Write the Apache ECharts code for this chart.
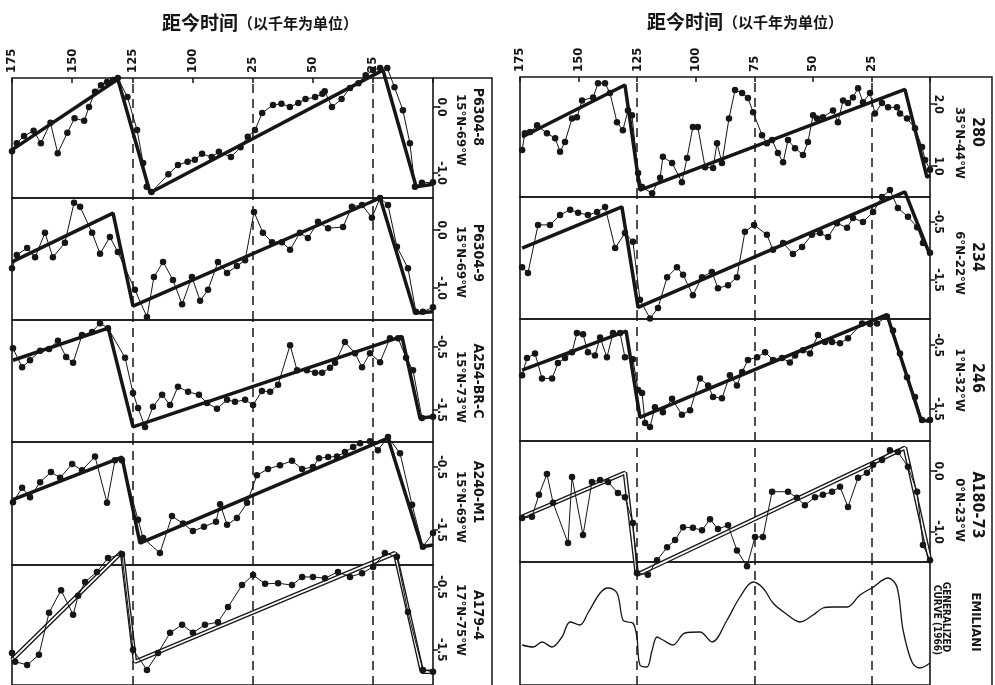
<!DOCTYPE html>
<html><head><meta charset="utf-8">
<script src="https://cdn.jsdelivr.net/npm/echarts@6/dist/echarts.min.js"></script>
<style>html,body{margin:0;padding:0;background:#fff}#c{width:995px;height:685px}</style>
</head><body><div id="c"></div>
<script>
// ---------- tick labels ----------
const xTickValues = [175, 150, 125, 100, 75, 50, 25];
const xTickLabelsLeft = ['175', '150', '125', '100', '25', '50', '25'];
const xTickLabelsRight = ['175', '150', '125', '100', '75', '50', '25'];
const boundaryAges = [125, 75, 25];
const titleMain = '距今时间';
const titleSub = '（以千年为单位）';

// ---------- data: [age (kyr BP), value] ----------
const p6304_8 = [[175,-0.67],[173,-0.55],[170,-0.44],[166,-0.36],[163,-0.55],[159,-0.24],[156,-0.70],[152,-0.39],[149,-0.17],[145,-0.21],[143,0.00],[140.5,0.23],[138,0.33],[135.5,0.38],[133,0.41],[131,0.44],[127,0.15],[123,-0.35],[120.5,-0.85],[119,-1.21],[117,-1.29],[110,-1.02],[106,-0.88],[102,-0.83],[99,-0.80],[96,-0.71],[92,-0.76],[89,-0.68],[84,-0.76],[80,-0.61],[77,-0.45],[74,-0.35],[71,-0.09],[66.5,0.03],[63,0.05],[59.5,0.00],[56,0.06],[53,0.12],[49,0.15],[46,0.20],[45,0.24],[42,0.00],[38,0.12],[34.5,0.29],[31,0.36],[28,0.48],[25,0.56],[22,0.59],[19,0.59],[16,0.30],[12.5,-0.05],[9.6,-0.55],[7.5,-1.21],[4.6,-1.15],[0,-1.14]];
const p6304_8_fit = [[175,-0.65],[131,0.42],[117.6,-1.30],[20.8,0.56],[7,-1.21],[0,-1.17]];

const p6304_9 = [[175,-0.66],[173,-0.43],[168.7,-0.31],[165.4,-0.47],[161.3,-0.05],[158,-0.47],[153,-0.22],[149.2,0.47],[146.7,0.40],[141.7,-0.05],[138.4,-0.41],[134.3,-0.12],[131,-0.38],[123.9,-1.03],[118.9,-1.50],[116,-0.81],[112.2,-0.55],[108.1,-0.86],[104.3,-1.28],[100.2,-0.81],[96.8,-1.22],[93.5,-1.03],[89.4,-0.55],[85.6,-0.74],[81.5,-0.62],[78.1,-0.52],[74.4,0.31],[70.7,-0.05],[66.9,-0.21],[62.8,-0.21],[59.4,-0.34],[55.3,-0.05],[52,-0.14],[47.8,0.14],[43.6,0.03],[37.4,0.05],[33.7,0.40],[29.5,0.43],[25.4,0.21],[22,0.55],[18.7,0.43],[15,-0.29],[10.4,-0.66],[7.1,-1.41],[4.2,-1.41],[0,-1.33]];
const p6304_9_fit = [[175,-0.55],[133,0.29],[124.7,-1.31],[22,0.55],[7.5,-1.43],[0,-1.41]];

const a254 = [[174.6,-0.52],[170.8,-0.82],[167.5,-0.71],[163.3,-0.56],[159.6,-0.53],[155.9,-0.40],[152.5,-0.66],[149.6,-0.75],[145.9,-0.31],[141.7,-0.26],[138.4,-0.12],[135.1,-0.20],[128,-0.67],[124.7,-1.23],[122.6,-1.47],[119.7,-1.77],[116.4,-1.45],[112.6,-1.26],[109.3,-1.42],[106,-1.13],[101.8,-1.21],[97.3,-1.26],[93.9,-1.39],[89.8,-1.48],[85.6,-1.34],[82.3,-1.37],[78.1,-1.34],[74.8,-1.42],[71.1,-1.20],[67.7,-1.21],[64.4,-1.10],[59.4,-0.47],[56.5,-0.87],[52.4,-0.87],[49,-0.91],[46.1,-0.91],[42.8,-0.83],[40.7,-0.75],[36.6,-0.42],[32.4,-0.60],[29.5,-0.82],[26.2,-0.60],[22,-0.74],[17.9,-0.36],[14.5,-0.36],[11.2,-0.67],[8.3,-0.87],[4.6,-1.63],[0,-1.61]];
const a254_fit = [[174.6,-0.71],[135,-0.20],[124.7,-1.77],[12.9,-0.33],[5.4,-1.63],[0,-1.61]];

const a240 = [[174.6,-1.06],[170.8,-0.83],[167.5,-0.98],[163.3,-0.74],[158.8,-0.58],[155,-0.67],[150,-0.45],[145.9,-0.55],[140.5,-0.33],[135.5,-1.07],[132.2,-0.39],[129.3,-0.39],[122.6,-1.34],[120.5,-1.63],[113.5,-1.87],[108.5,-1.28],[103.9,-1.40],[99.8,-1.52],[95.2,-1.45],[90.2,-1.37],[88.5,-1.09],[85.6,-1.42],[81.5,-1.31],[77.3,-1.07],[73.2,-0.63],[68.6,-0.53],[63.6,-0.47],[58.6,-0.40],[54.4,-0.53],[49.9,-0.50],[47.4,-0.36],[43.6,-0.34],[39.9,-0.33],[36.6,-0.26],[33.2,-0.18],[30.3,-0.12],[26.2,-0.09],[22.9,-0.23],[18.7,-0.02],[13.7,-0.28],[8.7,-1.10],[4.2,-1.77],[0,-1.55]];
const a240_fit = [[174.6,-1.02],[129.3,-0.34],[121.8,-1.71],[18.7,-0.04],[4.6,-1.77],[0,-1.74]];

const a179 = [[175,-1.55],[173.7,-1.69],[168.7,-1.74],[163.8,-1.58],[159.6,-0.91],[154.6,-0.55],[149.6,-0.94],[147.5,-0.64],[144.6,-0.42],[139.7,-0.26],[135.1,-0.04],[129.3,0.02],[124.7,-1.50],[118.9,-1.82],[114.3,-1.55],[109.3,-1.23],[104.3,-1.10],[99.8,-1.23],[94.8,-1.10],[89.4,-1.06],[85.2,-0.82],[79.4,-0.47],[74.8,-0.31],[69.8,-0.45],[64.4,-0.44],[58.6,-0.47],[54.4,-0.34],[49.9,-0.34],[44.9,-0.36],[39.5,-0.26],[34.5,-0.34],[29.5,-0.28],[24.9,-0.18],[20,0.04],[15,-0.02],[10.4,-0.90],[4.2,-1.82],[0,-1.85]];
const a179_fit = [[175,-1.66],[129.3,0.06],[123.9,-1.69],[15.8,0.04],[4.6,-1.85],[0,-1.85]];

const c280 = [[174.1,1.26],[172.9,1.53],[170.7,1.55],[167.7,1.66],[163.5,1.53],[160,1.45],[157.9,1.23],[155.8,1.39],[152.8,1.77],[150.7,1.79],[148.5,2.06],[143.8,2.11],[141.7,2.34],[138.7,2.34],[136.6,2.18],[133.6,1.71],[131.1,1.58],[128.9,1.90],[127.2,1.82],[124.6,0.89],[122.9,0.66],[118.6,0.56],[115.2,0.81],[114,1.15],[110.1,1.05],[105.9,0.74],[103.7,1.13],[101.2,1.63],[99.1,1.63],[96,0.98],[92.6,0.97],[90.9,1.37],[88.8,1.05],[85.8,1.77],[83.2,2.23],[80.2,2.18],[77.7,2.10],[75.5,1.87],[71.7,1.50],[69.6,1.37],[67.4,1.42],[64.9,1.21],[62.7,1.06],[60.6,1.42],[57.6,1.29],[54.2,1.18],[52.1,1.39],[49.9,1.82],[48.2,1.77],[45.7,1.79],[41.4,1.90],[39.3,1.71],[37.1,2.06],[35,2.02],[32.9,2.11],[30.7,2.26],[28.6,2.03],[25.6,2.18],[23.5,1.85],[20.5,2.02],[17.9,1.95],[14.1,1.95],[12.8,1.85],[9.8,1.77],[6.4,1.61],[3.4,1.31],[2.1,1.10],[0,0.94]];
const c280_fit = [[174.1,1.47],[130.2,2.31],[123.8,0.61],[10.7,2.24],[1.3,0.82],[0,0.85]];

const c234 = [[174.1,-1.28],[171.6,-1.38],[167.3,-0.55],[162.2,-0.55],[157.9,-0.38],[153.6,-0.29],[150.2,-0.34],[146,-0.38],[142.1,-0.33],[138.7,-0.24],[134.4,-0.95],[130.2,-0.69],[126.8,-0.84],[123.8,-1.84],[119.5,-2.16],[116.1,-1.98],[112.2,-1.45],[108,-1.28],[105.4,-1.41],[101.2,-1.76],[97.3,-1.45],[93.1,-1.36],[90.5,-1.64],[86.2,-1.59],[82.4,-1.45],[79,-0.67],[75.1,-0.55],[69.6,-0.72],[67,-0.98],[62.7,-0.86],[58.5,-1.05],[54.6,-0.93],[50.4,-0.72],[46.9,-0.69],[43.5,-0.76],[39.7,-0.52],[35.4,-0.60],[32.9,-0.43],[28.6,-0.50],[24.3,-0.33],[20.5,-0.07],[17.1,0.05],[13.7,-0.26],[9.4,-0.41],[5.5,-0.59],[3,-0.86],[0,-1.03]];
const c234_fit = [[174.1,-0.95],[131.5,-0.24],[124.6,-1.97],[10.7,0.02],[0,-1.07]];

const c246 = [[174.1,-0.97],[172,-0.70],[168.6,-0.63],[165.6,-1.02],[161.3,-1.02],[158.8,-0.78],[155.8,-0.70],[152.8,-0.61],[150.7,-0.31],[148.1,-0.33],[146,-0.61],[143,-0.66],[140.8,-0.38],[137.9,-0.69],[135.3,-0.31],[132.3,-0.31],[130.2,-0.69],[126.8,-0.72],[124.6,-1.20],[122.9,-1.25],[121.6,-1.72],[119.5,-1.78],[117.4,-1.47],[114,-1.55],[110.1,-1.34],[105.9,-1.59],[102.4,-1.52],[98.2,-1.02],[94.7,-1.13],[92.6,-1.31],[88.8,-1.33],[85.4,-0.97],[82.4,-1.13],[80.2,-0.92],[77.7,-0.73],[73.8,-0.69],[70.4,-0.61],[67,-0.73],[63.2,-0.70],[59.8,-0.77],[57.6,-0.66],[54.2,-0.58],[51.2,-0.63],[47.8,-0.34],[44.8,-0.45],[41.8,-0.45],[38.4,-0.47],[35,-0.39],[29,-0.16],[25.6,-0.17],[22.6,-0.16],[18.4,-0.05],[15.8,-0.27],[12.8,-0.63],[9.8,-1.00],[6.4,-1.31],[3.4,-1.67],[0,-1.67]];
const c246_fit = [[174.1,-0.89],[129.7,-0.28],[123.8,-1.63],[18.4,-0.02],[3.8,-1.67],[0,-1.69]];

const a180 = [[174.1,-0.77],[169.9,-0.75],[166.9,-0.39],[163.5,-0.05],[160.9,-0.52],[154.5,-1.18],[152.8,-0.10],[148.1,-1.05],[144.3,-0.18],[140.8,-0.15],[137.4,-0.18],[133.2,-0.36],[130.2,-0.43],[126.8,-0.85],[125.1,-1.67],[120.4,-1.70],[116.5,-1.46],[112.2,-1.25],[108.8,-1.13],[105.4,-0.92],[101.2,-0.93],[97.3,-0.97],[93.9,-0.79],[90.5,-0.95],[86.2,-0.89],[82.4,-1.30],[78.1,-1.56],[74.7,-1.08],[71.3,-1.08],[67.4,-0.34],[60.6,-0.34],[56.8,-0.44],[53.4,-0.56],[49.1,-0.43],[45.7,-0.39],[41.8,-0.34],[38.4,-0.26],[35,-0.59],[30.7,-0.11],[26.9,-0.03],[24.3,0.10],[20.5,0.18],[17.1,0.34],[13.7,0.31],[9.4,0.07],[5.5,-0.34],[3,-1.21],[0,-1.46]];
const a180_fit = [[174.1,-0.75],[130.2,-0.03],[125.1,-1.70],[10.7,0.38],[0,-1.46]];

const emiliani = [[174.1,0.40],[169.4,0.38],[165.6,0.43],[161.3,0.38],[157.1,0.48],[153.6,0.63],[149.4,0.60],[146,0.72],[140.8,0.92],[137.4,0.97],[133.6,0.92],[131.1,0.65],[128.9,0.63],[126.8,0.62],[125.1,0.48],[123.8,0.20],[120.8,0.18],[118.6,0.35],[116.5,0.48],[114,0.45],[109.7,0.40],[104.6,0.52],[98.2,0.53],[93,0.43],[86.6,0.65],[81.1,0.88],[75.5,1.03],[71.3,0.97],[67,0.82],[61.9,0.72],[55.5,0.63],[49.9,0.70],[45.7,0.77],[41.4,0.78],[35.4,0.78],[29.9,0.90],[24.8,0.97],[17.9,1.07],[14.1,0.98],[11.5,0.55],[7.7,0.23],[4.3,0.17],[0,0.22]];

// y tick values per panel
const yTicks_p6304_8 = [0, -1], yTicks_p6304_9 = [0, -1], yTicks_a254 = [-0.5, -1.5], yTicks_a240 = [-0.5, -1.5], yTicks_a179 = [-0.5, -1.5];
const yTicks_c280 = [2, 1], yTicks_c234 = [-0.5, -1.5], yTicks_c246 = [-0.5, -1.5], yTicks_a180 = [0, -1];

// ---------- layout ----------
const COLS = [{left: 12, right: 433}, {left: 520, right: 930}];
const ROWS = [
  [[78,198],[198,320],[320,442],[442,565],[565,685]],
  [[77,197],[197,319],[319,441],[441,562],[562,685]]
];
const panels = [
  {col:0,row:0,name:'P6304-8',coord:'15°N-69°W',data:p6304_8,fit:p6304_8_fit,yMin:-1.38,yMax:0.44,ticks:yTicks_p6304_8,hollow:false,nameY:117,coordY:130},
  {col:0,row:1,name:'P6304-9',coord:'15°N-69°W',data:p6304_9,fit:p6304_9_fit,yMin:-1.55,yMax:0.55,ticks:yTicks_p6304_9,hollow:false,nameY:253,coordY:262},
  {col:0,row:2,name:'A254-BR-C',coord:'15°N-73°W',data:a254,fit:a254_fit,yMin:-2.01,yMax:-0.07,ticks:yTicks_a254,hollow:false,nameY:381,coordY:387},
  {col:0,row:3,name:'A240-M1',coord:'15°N-69°W',data:a240,fit:a240_fit,yMin:-2.06,yMax:-0.10,ticks:yTicks_a240,hollow:false,nameY:492,coordY:507},
  {col:0,row:4,name:'A179-4',coord:'17°N-75°W',data:a179,fit:a179_fit,yMin:-2.06,yMax:-0.15,ticks:yTicks_a179,hollow:true,nameY:615,coordY:620},
  {col:1,row:0,name:'280',coord:'35°N-44°W',data:c280,fit:c280_fit,yMin:0.50,yMax:2.44,ticks:yTicks_c280,hollow:false,nameY:132,coordY:143,big:true},
  {col:1,row:1,name:'234',coord:'6°N-22°W',data:c234,fit:c234_fit,yMin:-2.17,yMax:-0.07,ticks:yTicks_c234,hollow:false,nameY:257,coordY:263,big:true},
  {col:1,row:2,name:'246',coord:'1°N-32°W',data:c246,fit:c246_fit,yMin:-2.0,yMax:-0.09,ticks:yTicks_c246,hollow:false,nameY:378,coordY:380,big:true},
  {col:1,row:3,name:'A180-73',coord:'0°N-23°W',data:a180,fit:a180_fit,yMin:-1.49,yMax:0.49,ticks:yTicks_a180,hollow:true,nameY:505,coordY:510,big:true},
  {col:1,row:4,name:'EMILIANI',data:emiliani,yMin:0,yMax:1.23,curve:true}
];

const INK = '#161616';
const FONT = "'DejaVu Sans Condensed','Liberation Sans Narrow','DejaVu Sans',sans-serif";

const grids = [], xAxes = [], yAxes = [], series = [];
panels.forEach((p, i) => {
  const c = COLS[p.col], r = ROWS[p.col][p.row];
  grids.push({left: c.left, width: c.right - c.left, top: r[0], height: r[1] - r[0],
    show: true, borderColor: INK, borderWidth: 1.6, backgroundColor: 'transparent'});
  const labels = p.col === 0 ? xTickLabelsLeft : xTickLabelsRight;
  xAxes.push({gridIndex: i, type: 'value', min: 0, max: 175, interval: 25, inverse: true, position: 'top',
    axisLine: {show: false, onZero: false}, splitLine: {show: false},
    axisTick: {show: p.row === 0, inside: true, length: 5, lineStyle: {color: INK, width: 1.5}},
    axisLabel: {show: p.row === 0, rotate: -90, margin: 5, color: INK, fontSize: 13, fontWeight: 'bold', fontFamily: FONT,
      formatter: v => { const k = xTickValues.indexOf(v); return k >= 0 ? labels[k] : ''; }}
  });
  const yAx = {gridIndex: i, type: 'value', min: p.yMin, max: p.yMax, position: 'right',
    axisLine: {show: false, onZero: false}, splitLine: {show: false}};
  if (p.ticks) {
    yAx.axisTick = {show: true, length: 5, customValues: p.ticks, lineStyle: {color: INK, width: 1.5}};
    yAx.axisLabel = {show: true, customValues: p.ticks, rotate: -90, margin: 2, color: INK, fontSize: 12, fontWeight: 'bold', fontFamily: FONT,
      formatter: v => v.toFixed(1)};
  } else {
    yAx.axisTick = {show: false}; yAx.axisLabel = {show: false};
  }
  yAxes.push(yAx);

  const markLine = {silent: true, symbol: ['none', 'none'], label: {show: false}, animation: false,
    lineStyle: {color: INK, type: [9, 6], width: 1.5}, data: boundaryAges.map(a => ({xAxis: a}))};

  if (p.curve) {
    series.push({type: 'line', xAxisIndex: i, yAxisIndex: i, data: p.data, smooth: 0.35, symbol: 'none', clip: false,
      lineStyle: {color: INK, width: 1.3}, markLine, z: 4});
    return;
  }
  if (p.hollow) {
    series.push({type: 'line', xAxisIndex: i, yAxisIndex: i, data: p.fit, symbol: 'none', clip: false,
      lineStyle: {color: INK, width: 4.5}, z: 2});
    series.push({type: 'line', xAxisIndex: i, yAxisIndex: i, data: p.fit, symbol: 'none', clip: false,
      lineStyle: {color: '#ffffff', width: 1.8}, z: 3});
  } else {
    series.push({type: 'line', xAxisIndex: i, yAxisIndex: i, data: p.fit, symbol: 'none', clip: false,
      lineStyle: {color: INK, width: 3.5}, z: 2});
  }
  series.push({type: 'line', xAxisIndex: i, yAxisIndex: i, data: p.data, symbol: 'circle', symbolSize: 6.5, clip: false,
    lineStyle: {color: INK, width: 1}, itemStyle: {color: INK}, markLine, z: 4});
});

// ---------- text & frame ----------
const graphic = [];
const rot = -Math.PI / 2;
function vtext(x, y, text, size, weight) {
  graphic.push({type: 'text', x, y, rotation: rot, silent: true,
    style: {text, fill: INK, font: `${weight || 'bold'} ${size}px ${FONT}`, textAlign: 'center', textVerticalAlign: 'middle'}});
}
panels.forEach(p => {
  const base = p.col === 0 ? 433 : 930;
  if (p.curve) {
    vtext(base + 45, 622, 'EMILIANI', 13);
    vtext(base + 16, 617, 'GENERALIZED', 10);
    vtext(base + 7, 620, 'CURVE (1966)', 10);
    return;
  }
  vtext(base + (p.col === 0 ? 45 : 47), p.nameY, p.name, p.big ? 16 : 14);
  vtext(base + (p.col === 0 ? 27 : 29), p.coordY, p.coord, 13);
});
[[260, 23], [745, 22]].forEach(([x, y]) => {
  graphic.push({type: 'text', x, y, silent: true, style: {
    text: `{a|${titleMain}}{b|${titleSub}}`, textAlign: 'center', textVerticalAlign: 'middle',
    rich: {a: {fontSize: 19, fontWeight: 'bold', fontFamily: "'Noto Sans CJK SC',sans-serif", fill: INK},
           b: {fontSize: 15, fontWeight: 'bold', fontFamily: "'Noto Sans CJK SC',sans-serif", fill: INK}}}});
});
graphic.push({type: 'polyline', silent: true, shape: {points: [[433, 78], [492, 78], [492, 686]]}, style: {stroke: INK, lineWidth: 1.5, fill: null}});
graphic.push({type: 'polyline', silent: true, shape: {points: [[930, 77], [992, 77], [992, 686]]}, style: {stroke: INK, lineWidth: 1.5, fill: null}});

const chart = echarts.init(document.getElementById('c'), null, {renderer: 'canvas'});
chart.setOption({animation: false, backgroundColor: '#ffffff', grid: grids, xAxis: xAxes, yAxis: yAxes, series, graphic});
</script>
</body></html>
